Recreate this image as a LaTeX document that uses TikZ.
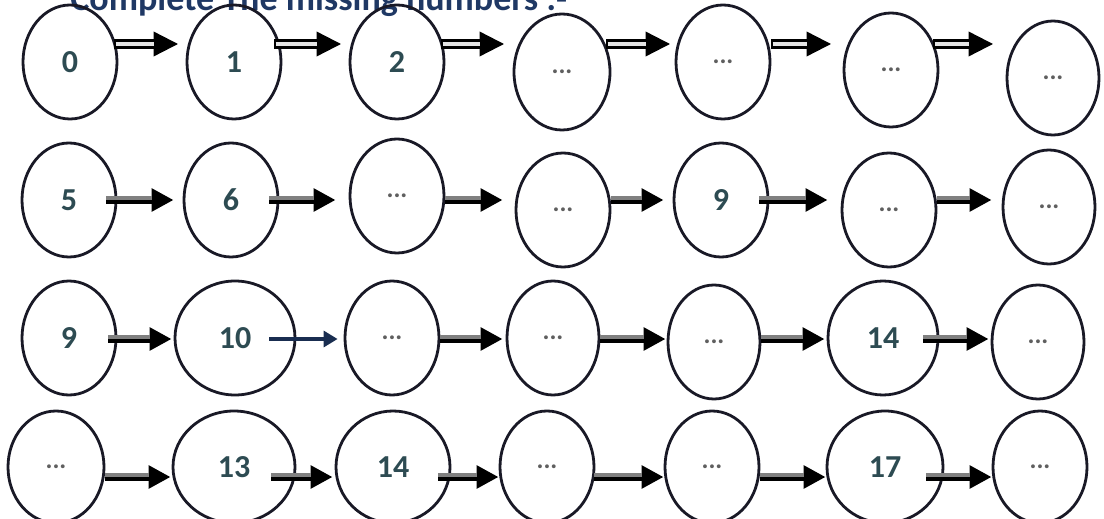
\documentclass[tikz,border=0pt]{standalone}
\usepackage{fontspec}
\setmainfont{Carlito}
\usetikzlibrary{arrows.meta,shapes.geometric}
\definecolor{numc}{RGB}{45,75,82}
\definecolor{titc}{RGB}{31,56,100}
\definecolor{ringc}{RGB}{25,25,38}
\definecolor{dotc}{RGB}{95,95,95}
\definecolor{navyarr}{RGB}{25,45,80}
\begin{document}
\begin{tikzpicture}[x=0.5pt,y=-0.5pt,
  ring/.style={ellipse, draw=ringc, line width=1.4pt, inner sep=0pt,
               minimum width=47pt, minimum height=57pt},
  num/.style={font=\bfseries\fontsize{16}{16}\selectfont, text=numc},
  gap/.style={font=\bfseries\fontsize{13}{13}\selectfont, text=dotc},
  arrA/.style 2 args={draw=black, line width=4.6pt, shorten <=#1, shorten >=#2,
     -{Triangle[length=12.5pt,width=11.5pt]},
     postaction={draw=black!10, line width=1.6pt, -, shorten <=#1+0.6pt, shorten >=#2+12.3pt}},
  arrB/.style 2 args={draw=black, line width=3.6pt, shorten <=#1, shorten >=#2,
     -{Triangle[length=11pt,width=11pt]},
     postaction={draw=black!50, line width=1.9pt, -, shorten <=#1, shorten >=#2+10.8pt,
                 transform canvas={yshift=0.9pt}}},
  arrC/.style 2 args={draw=navyarr, line width=1.6pt, shorten <=#1, shorten >=#2,
     -{Triangle[length=7pt,width=8pt]}}
]
\useasboundingbox (0,0) rectangle (1104,519);

% title (cut off at the top, as in the reference)
\node[anchor=base west, inner sep=0pt, font=\bfseries\fontsize{18}{18}\selectfont, text=titc]
  (title) at (70,11) {Complete The missing numbers :-};

% row 1
\node[ring,num] (a1) at (70,62) {0};
\node[ring,num] (a2) at (234,62) {1};
\node[ring,num] (a3) at (397,62) {2};
\node[ring,gap,minimum width=48pt,minimum height=58pt] (a4) at (562,72) {...};
\node[ring,gap] (a5) at (723,62) {...};
\node[ring,gap] (a6) at (891,70) {...};
\node[ring,gap,minimum width=46pt] (a7) at (1053,78) {...};

% row 2
\node[ring,num] (b1) at (69,200) {5};
\node[ring,num] (b2) at (231,200) {6};
\node[ring,gap] (b3) at (397,196) {...};
\node[ring,gap] (b4) at (563,210) {...};
\node[ring,num] (b5) at (721,200) {9};
\node[ring,gap] (b6) at (889,210) {...};
\node[ring,gap,minimum width=46pt] (b7) at (1049,207) {...};

% row 3
\node[ring,num] (c1) at (69,338) {9};
\node[ring,num,minimum width=60pt] (c2) at (235,338) {10};
\node[ring,gap] (c3) at (392,338) {...};
\node[ring,gap,minimum width=46pt] (c4) at (553,338) {...};
\node[ring,gap,minimum width=46pt] (c5) at (714,342) {...};
\node[ring,num,minimum width=55pt] (c6) at (883,338) {14};
\node[ring,gap,minimum width=46pt] (c7) at (1038,342) {...};

% row 4
\node[ring,gap,minimum width=48pt,minimum height=56pt] (d1) at (56,467) {...};
\node[ring,num,minimum width=61pt,minimum height=56pt] (d2) at (234,467) {13};
\node[ring,num,minimum width=57pt,minimum height=56pt] (d3) at (393,467) {14};
\node[ring,gap,minimum height=56pt] (d4) at (547,467) {...};
\node[ring,gap,minimum height=56pt] (d5) at (712,467) {...};
\node[ring,num,minimum width=58pt,minimum height=56pt] (d6) at (885,467) {17};
\node[ring,gap,minimum height=56pt] (d7) at (1040,467) {...};

% arrow heights
\coordinate (ya) at (0,44);
\coordinate (yb) at (0,200);
\coordinate (yc) at (0,339);
\coordinate (yd) at (0,477);

% row 1 arrows
\draw[arrA={-2pt}{3.5pt}] (a1.east |- ya) -- (a2.west |- ya);
\draw[arrA={-4pt}{3.5pt}] (a2.east |- ya) -- (a3.west |- ya);
\draw[arrA={-2pt}{4pt}]   (a3.east |- ya) -- (a4.west |- ya);
\draw[arrA={-2.5pt}{2pt}] (a4.east |- ya) -- (a5.west |- ya);
\draw[arrA={0pt}{5.5pt}]  (a5.east |- ya) -- (a6.west |- ya);
\draw[arrA={-3pt}{6pt}]   (a6.east |- ya) -- (a7.west |- ya);

% row 2 arrows
\draw[arrB={-5.5pt}{4.5pt}] (b1.east |- yb) -- (b2.west |- yb);
\draw[arrB={-5pt}{6.5pt}]   (b2.east |- yb) -- (b3.west |- yb);
\draw[arrB={0pt}{6pt}]      (b3.east |- yb) -- (b4.west |- yb);
\draw[arrB={0pt}{4.5pt}]    (b4.east |- yb) -- (b5.west |- yb);
\draw[arrB={-5pt}{6.5pt}]   (b5.east |- yb) -- (b6.west |- yb);
\draw[arrB={0pt}{5pt}]      (b6.east |- yb) -- (b7.west |- yb);

% row 3 arrows
\draw[arrB={-4.5pt}{1pt}]   (c1.east |- yc) -- (c2.west |- yc);
\draw[arrC={-13.5pt}{3pt}]  (c2.east |- yc) -- (c3.west |- yc);
\draw[arrB={0pt}{1.5pt}]    (c3.east |- yc) -- (c4.west |- yc);
\draw[arrB={0pt}{0.5pt}]    (c4.east |- yc) -- (c5.west |- yc);
\draw[arrB={0pt}{1pt}]      (c5.east |- yc) -- (c6.west |- yc);
\draw[arrB={-8pt}{1pt}]     (c6.east |- yc) -- (c7.west |- yc);

% row 4 arrows
\draw[arrB={0pt}{0.5pt}]    (d1.east |- yd) -- (d2.west |- yd);
\draw[arrB={-12.5pt}{1pt}]  (d2.east |- yd) -- (d3.west |- yd);
\draw[arrB={-6.5pt}{0pt}]   (d3.east |- yd) -- (d4.west |- yd);
\draw[arrB={-0.5pt}{0pt}]   (d4.east |- yd) -- (d5.west |- yd);
\draw[arrB={0pt}{0pt}]      (d5.east |- yd) -- (d6.west |- yd);
\draw[arrB={-9pt}{0pt}]     (d6.east |- yd) -- (d7.west |- yd);
\end{tikzpicture}
\end{document}
